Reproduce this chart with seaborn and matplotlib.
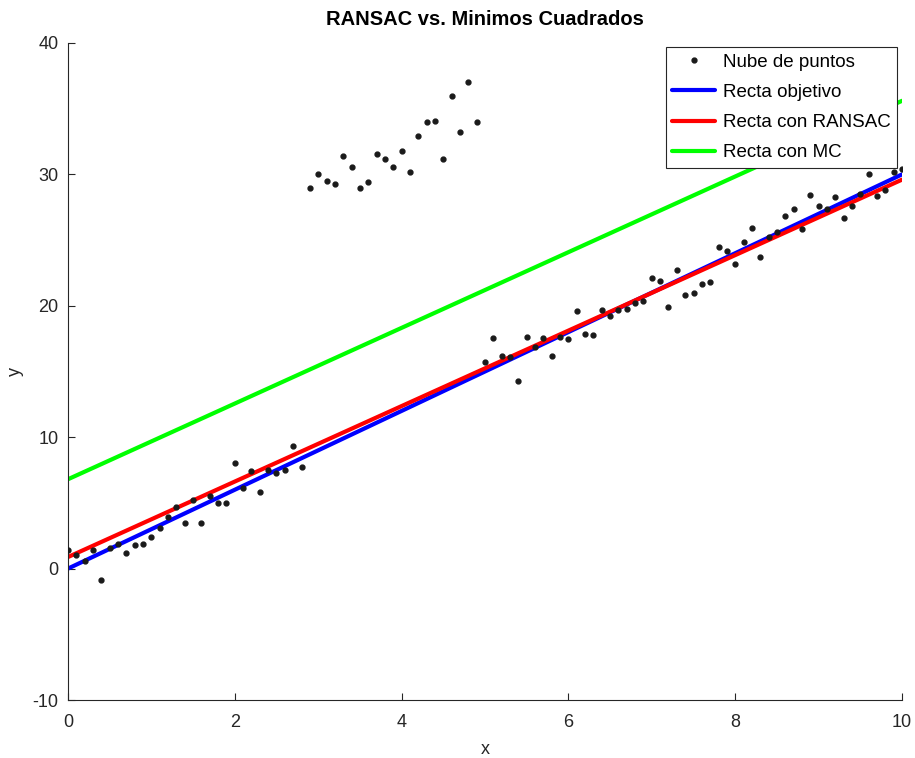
import numpy as np
import pandas as pd
import seaborn as sns
import matplotlib.pyplot as plt

sns.set_theme(style="white")
plt.rcParams['font.family'] = ['Liberation Sans', 'DejaVu Sans']
plt.rcParams['axes.unicode_minus'] = False

# ---------- Data ------------------------------------------------- #
x_pts = [round(0.1 * i, 1) for i in range(101)]
y_pts = [1.4, 1.0, 0.6, 1.4, -0.9, 1.6, 1.9, 1.2, 1.8, 1.9,
         2.4, 3.1, 3.9, 4.7, 3.5, 5.2, 3.5, 5.5, 5.0, 5.0,
         8.0, 6.1, 7.4, 5.8, 7.5, 7.3, 7.5, 9.3, 7.7,
         29.0, 30.05, 29.5, 29.25, 31.4, 30.6, 29.0, 29.45, 31.55, 31.15,
         30.6, 31.8, 30.15, 32.9, 34.0, 34.1, 31.2, 36.0, 33.2, 37.05, 34.0,
         15.7, 17.57, 16.2, 16.1, 14.3, 17.6, 16.9, 17.57, 16.15, 17.6,
         17.45, 19.6, 17.85, 17.75, 19.65, 19.2, 19.65, 19.75, 20.2, 20.4,
         22.1, 21.9, 19.9, 22.75, 20.8, 21.0, 21.65, 21.8, 24.5, 24.15,
         23.2, 24.85, 25.9, 23.7, 25.2, 25.6, 26.8, 27.4, 25.85, 28.4,
         27.6, 27.35, 28.3, 26.7, 27.6, 28.5, 30.0, 28.35, 28.8, 30.2, 30.4]

line_x      = [0, 10]
target_y    = [0.0, 30.0]
ransac_y    = [0.88, 29.6]
mc_y        = [6.8, 35.6]

pts = pd.DataFrame({"x": x_pts, "y": y_pts})
lines = pd.DataFrame({"x": line_x * 3,
                      "y": target_y + ransac_y + mc_y,
                      "fit": ["Recta objetivo"] * 2 + ["Recta con RANSAC"] * 2 + ["Recta con MC"] * 2})

palette = {"Recta objetivo": "#0000ff", "Recta con RANSAC": "#ff0000", "Recta con MC": "#00ff00"}

# ---------- Figure ----------------------------------------------- #
fig = plt.figure(figsize=(9.15, 7.58), dpi=100)
ax = fig.add_axes([0.0743, 0.0765, 0.9115, 0.8668])

ax.plot(pts["x"], pts["y"], ".", color="#1a1a1a", markersize=7, label="Nube de puntos", zorder=3)
sns.lineplot(data=lines, x="x", y="y", hue="fit", palette=palette, linewidth=3,
             estimator=None, sort=False, ax=ax, zorder=2)

ax.set_xlim(0, 10)
ax.set_ylim(-10, 40)
ax.set_xticks(range(0, 11, 2))
ax.set_yticks(range(-10, 41, 10))
ax.set_xlabel("x", fontsize=13, color="#262626", labelpad=7)
ax.set_ylabel("y", fontsize=13, color="#262626", labelpad=6)
ax.set_title("RANSAC vs. Minimos Cuadrados", fontsize=14.5, fontweight="bold",
             color="black", pad=13)

ax.tick_params(direction="in", length=5, width=0.8, colors="#262626", labelsize=13,
               bottom=True, left=True, pad=7)
ax.tick_params(axis="x", pad=10)
for side in ["top", "right"]:
    ax.spines[side].set_visible(False)
for side in ["left", "bottom"]:
    ax.spines[side].set_color("#262626")
    ax.spines[side].set_linewidth(0.8)

leg = ax.legend(loc="upper right", bbox_to_anchor=(0.994, 0.994), fontsize=13.5,
                frameon=True, fancybox=False, framealpha=1, edgecolor="#262626",
                handlelength=2.3, handletextpad=0.4, borderpad=0.35, labelspacing=0.7,
                borderaxespad=0)
leg.get_frame().set_linewidth(0.8)
for t in leg.get_texts():
    t.set_color("black")

fig.savefig("out.png", dpi=100)
